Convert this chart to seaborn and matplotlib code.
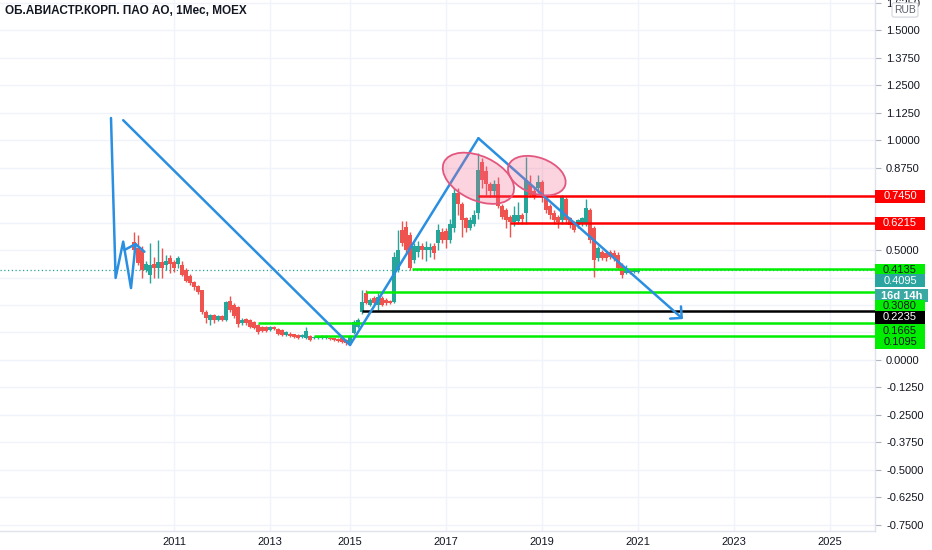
import numpy as np
import matplotlib.pyplot as plt
import seaborn as sns
from matplotlib.patches import Ellipse, Rectangle
from matplotlib.transforms import ScaledTranslation, blended_transform_factory


# monthly candles, bar 0 = Mar 2010 ... bar 126 = Jan 2021
opens = [.538, .510, .500, .410, .386, .436, .420, .447, .430, .464,
         .445, .436, .430, .410, .380, .355, .335, .318, .220, .180,
         .205, .180, .200, .180, .270, .250, .240, .168, .186, .180,
         .173, .160, .150, .150, .136, .150, .140, .136, .114, .120,
         .118, .114, .105, .100, .110, .100, .100, .100, .100, .100,
         .100, .095, .100, .090, .077, .123, .150, .218, .305, .250,
         .282, .250, .282, .273, .270, .265, .410, .590, .606, .570,
         .455, .490, .520, .500, .500, .520, .530, .580, .585, .545,
         .600, .760, .710, .645, .600, .620, .670, .900, .860, .800,
         .770, .800, .700, .680, .650, .627, .630, .660, .670, .800,
         .770, .780, .810, .740, .700, .670, .650, .636, .730, .645,
         .627, .614, .620, .620, .680, .600, .464, .490, .486, .490,
         .486, .477, .430, .395, .405, .400, .400]
highs = [.583, .570, .520, .450, .532, .468, .545, .510, .477, .477,
         .455, .475, .450, .420, .390, .360, .340, .320, .225, .210,
         .210, .205, .205, .270, .290, .260, .245, .190, .190, .185,
         .178, .165, .155, .155, .155, .155, .145, .140, .130, .125,
         .120, .118, .118, .150, .115, .108, .108, .115, .115, .105,
         .102, .100, .102, .095, .115, .180, .190, .318, .318, .280,
         .290, .303, .290, .280, .275, .490, .590, .630, .630, .580,
         .530, .540, .530, .540, .530, .530, .620, .600, .600, .640,
         .780, .780, .720, .650, .650, .680, .940, .920, .880, .810,
         .820, .830, .710, .690, .660, .700, .720, .670, .925, .840,
         .780, .840, .820, .750, .710, .680, .660, .750, .740, .650,
         .630, .640, .650, .730, .690, .610, .520, .500, .490, .500,
         .500, .490, .440, .430, .410, .420, .420]
lows = [.490, .430, .373, .400, .350, .373, .373, .373, .410, .395,
        .400, .420, .380, .355, .340, .320, .300, .210, .170, .160,
        .170, .175, .175, .175, .220, .190, .150, .160, .160, .145,
        .140, .120, .125, .125, .130, .135, .115, .110, .110, .105,
        .100, .095, .100, .095, .085, .095, .095, .095, .095, .090,
        .085, .080, .075, .070, .068, .120, .145, .210, .255, .245,
        .250, .227, .245, .250, .255, .260, .400, .520, .490, .410,
        .440, .470, .460, .450, .470, .460, .500, .530, .510, .530,
        .580, .660, .560, .580, .590, .610, .640, .780, .750, .740,
        .740, .690, .640, .600, .560, .610, .620, .620, .620, .740,
        .730, .760, .720, .670, .640, .620, .600, .620, .620, .600,
        .580, .600, .610, .610, .530, .377, .450, .455, .450, .460,
        .450, .410, .375, .390, .390, .395, .395]
closes = [.500, .440, .410, .436, .432, .418, .447, .420, .450, .436,
          .418, .464, .385, .360, .350, .330, .310, .220, .190, .205,
          .180, .200, .180, .265, .227, .200, .165, .180, .168, .150,
          .145, .127, .130, .130, .150, .140, .120, .114, .127, .110,
          .105, .100, .114, .130, .090, .105, .105, .110, .110, .095,
          .090, .085, .080, .077, .110, .173, .180, .264, .260, .273,
          .259, .288, .250, .259, .260, .470, .500, .530, .500, .417,
          .520, .520, .500, .515, .515, .485, .590, .545, .545, .620,
          .760, .710, .636, .600, .636, .660, .864, .820, .800, .770,
          .800, .700, .650, .636, .627, .660, .660, .640, .820, .750,
          .740, .810, .740, .680, .660, .636, .627, .740, .636, .614,
          .590, .636, .645, .690, .545, .455, .510, .464, .464, .470,
          .464, .420, .386, .418, .397, .4095, .4095]

year_labels = ["2011", "2013", "2015", "2017", "2019", "2021", "2023", "2025"]
year_bars = [10, 34, 54, 78, 102, 126, 150, 174]

# horizontal levels drawn on the chart: value, first bar, colour
level_values = [0.7450, 0.6215, 0.4135, 0.3080, 0.2235, 0.1665, 0.1095]
level_starts = [86, 94, 69.5, 58, 57, 31, 45]
level_colors = ["#ff0000", "#ff0000", "#00ee00", "#00ee00", "#000000", "#00ee00", "#00ee00"]

last_price = 0.4095
countdown = "16d 14h"

# hand drawn trend lines (bar, price)
zigzag_x = [-5.75, -4.6, -2.7, -0.75, 0.4, 2.6]
zigzag_y = [1.10, 0.373, 0.538, 0.327, 0.527, 0.492]
tick_x = [-2.4, 0.4]
tick_y = [0.50, 0.527]
trend_x = [-2.7, 54, 86.1]
trend_y = [1.09, 0.068, 1.008]
arrow_tip = (137.25, 0.186)

# highlighted tops: centre (bar, price), semi axes in px, tilt
tops_center = [(86.1, 0.826), (100.7, 0.838)]
tops_axes = [(38, 22), (30, 18)]
tops_angle = [-25, -20]

# price scale ticks hidden behind the level labels
hidden_ticks = [0.75, 0.625, 0.375, 0.25, 0.125]

UP = "#26a69a"
DOWN = "#ef5350"
BLUE = "#2a8fe0"
TEXT = "#131722"

sns.set_theme(style="white")
plt.rcParams["font.family"] = ["Liberation Sans", "DejaVu Sans"]

fig = plt.figure(figsize=(9.32, 5.5), dpi=100)
ax = fig.add_axes([0, 19 / 550, 875 / 932, 531 / 550])

bars = np.arange(len(closes))
o = np.array(opens)
c = np.array(closes)
colors = [UP if cc >= oo else DOWN for oo, cc in zip(o, c)]
body = np.maximum(np.abs(c - o), 0.005)

ax.vlines(bars, lows, highs, colors=colors, lw=1.0, zorder=3)
ax.bar(bars, body, bottom=np.minimum(o, c), width=0.8, color=colors, lw=0, zorder=3)

ax.axhline(last_price, color=UP, ls=(0, (1, 2)), lw=0.9, zorder=2)
ax.hlines(level_values, level_starts, 185.25, colors=level_colors, lw=1.8, zorder=4)

sns.lineplot(x=zigzag_x, y=zigzag_y, sort=False, color=BLUE, lw=1.8, ax=ax, zorder=5)
sns.lineplot(x=tick_x, y=tick_y, sort=False, color=BLUE, lw=1.8, ax=ax, zorder=5)
sns.lineplot(x=trend_x, y=trend_y, sort=False, color=BLUE, lw=1.8, ax=ax, zorder=5)
ax.annotate("", xy=arrow_tip, xytext=(trend_x[-1], trend_y[-1]),
            arrowprops=dict(arrowstyle="->,head_length=0.45,head_width=0.45", color=BLUE,
                            lw=1.8, mutation_scale=13, shrinkA=0, shrinkB=0), zorder=5)

for (cx, cy), (a, b), ang in zip(tops_center, tops_axes, tops_angle):
    tr = fig.dpi_scale_trans + ScaledTranslation(cx, cy, ax.transData)
    ax.add_patch(Ellipse((0, 0), 2 * a / 100, 2 * b / 100, angle=ang, transform=tr,
                         facecolor=(0.95, 0.4, 0.55, 0.28), edgecolor="#e3577f", lw=1.3, zorder=6))

ax.set_xlim(-33.5, 185.25)
ax.set_ylim(-0.7773, 1.6364)

ax.set_xticks(year_bars)
ax.set_xticklabels(year_labels)
yt = np.arange(-0.75, 1.63, 0.125)
ax.set_yticks(yt)
ax.set_yticklabels(["" if any(abs(v - h) < 1e-6 for h in hidden_ticks) else f"{v:.4f}" for v in yt])
ax.yaxis.tick_right()
ax.tick_params(axis="x", length=0, pad=4, labelsize=8, labelcolor=TEXT)
ax.tick_params(axis="y", length=4, width=0.8, color="#b2b5be", pad=4, labelsize=8, labelcolor=TEXT)
ax.grid(True, color="#f0f3fa", lw=1)
for side in ["top", "left"]:
    ax.spines[side].set_visible(False)
for side in ["right", "bottom"]:
    ax.spines[side].set_color("#e0e3eb")
    ax.spines[side].set_linewidth(1)

# price scale labels
blend = blended_transform_factory(ax.transAxes, ax.transData)
scale_labels = [
    ("0.7450", 0.7450, "#ff0000", "white", 0),
    ("0.6215", 0.6215, "#ff0000", "white", 0),
    ("0.4135", 0.4135, "#00ee00", TEXT, -1),
    ("0.4095", 0.4095, "#2ba5a0", "white", -11),
    (countdown, 0.4095, "#3aa9a3", "white", -26),
    ("0.3080", 0.3080, "#00ee00", TEXT, -14),
    ("0.2235", 0.2235, "#000000", "white", -6.5),
    ("0.1665", 0.1665, "#00ee00", TEXT, -7.5),
    ("0.1095", 0.1095, "#00ee00", TEXT, -6.5),
]
for txt, val, face, fg, dy in scale_labels:
    tr = fig.dpi_scale_trans + ScaledTranslation(1.0, val, blend)
    w = 0.53 if txt == countdown else 0.50
    r = Rectangle((0, dy / 100 - 0.065), w, 0.13, transform=tr, facecolor=face, lw=0, zorder=10)
    r.set_clip_on(False)
    ax.add_patch(r)
    ax.text(w / 2, dy / 100, txt, transform=tr, ha="center", va="center", fontsize=8,
            color=fg, fontweight="bold" if txt == countdown else "normal", zorder=11, clip_on=False)

fig.text(5 / 932, 1 - 11 / 550, "ОБ.АВИАСТР.КОРП. ПАО АО, 1Мес, MOEX", fontsize=8.5,
         fontweight="bold", color=TEXT, ha="left", va="center")
fig.text(905 / 932, 1 - 10 / 550, "RUB", fontsize=7.5, color="#5d606b", ha="center", va="center",
         bbox=dict(boxstyle="round,pad=0.2", facecolor="white", edgecolor="#d1d4dc", lw=0.8))

fig.savefig("out.png", dpi=100)
